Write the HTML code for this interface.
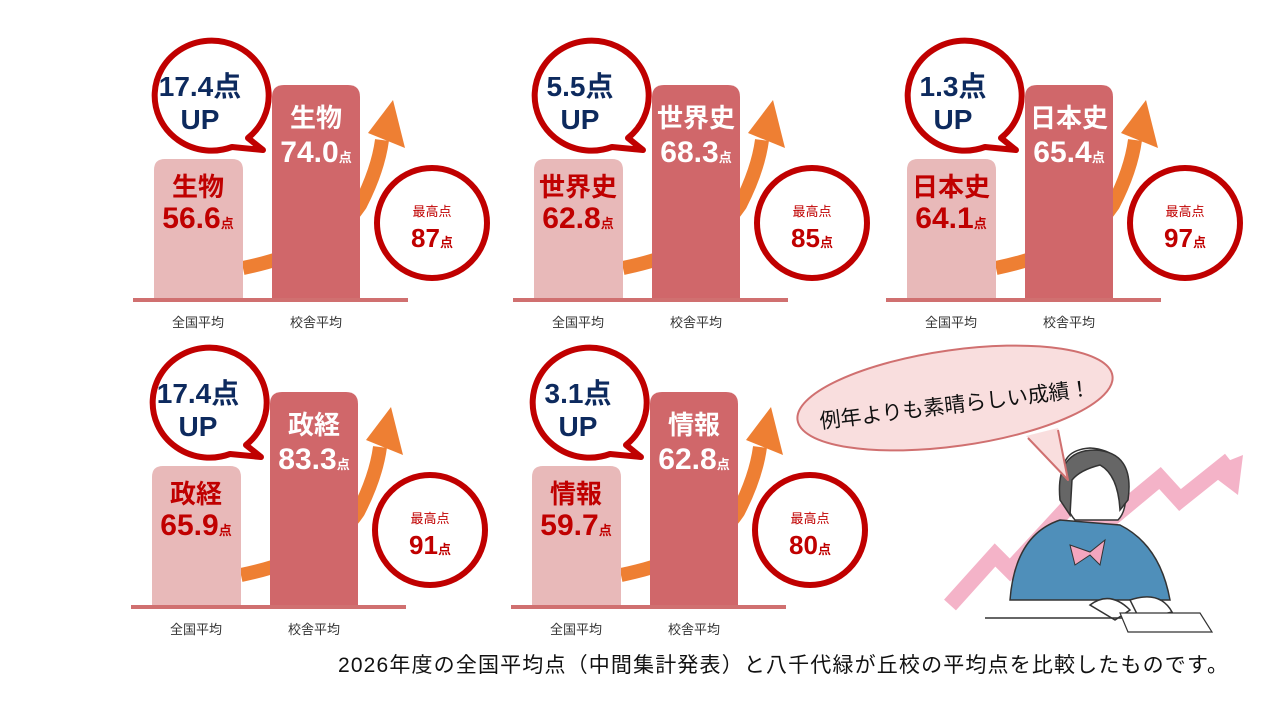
<!DOCTYPE html>
<html><head><meta charset="utf-8"><style>
body{margin:0;background:#fff;width:1280px;height:720px;overflow:hidden}
svg{display:block}
text{font-family:"Liberation Sans","Noto Sans CJK JP",sans-serif}
</style></head><body>
<svg width="1280" height="720" viewBox="0 0 1280 720">
<defs>
<g id="base" font-weight="normal">
  <path d="M243 268 Q330 250 360 205 Q378 170 382 140" fill="none" stroke="#ee7f33" stroke-width="14"/>
  <polygon points="393,100 405,148 368,133" fill="#ee7f33"/>
  <path d="M154 300 V170 Q154 159 165 159 H232 Q243 159 243 170 V300 Z" fill="#e8b9b9"/>
  <path d="M272 300 V97 Q272 85 284 85 H348 Q360 85 360 97 V300 Z" fill="#d0676a"/>
  <rect x="133" y="298" width="275" height="4" fill="#d07070"/>
  <path d="M248 138 A57 55 0 1 0 232 147 L263 150 Z" fill="#fff" stroke="#c00000" stroke-width="6" stroke-linejoin="round"/>
  <circle cx="432" cy="223" r="55" fill="#fff" stroke="#c00000" stroke-width="6"/>
  <text x="198" y="327" font-size="13" text-anchor="middle" fill="#333">全国平均</text>
  <text x="316" y="327" font-size="13" text-anchor="middle" fill="#333">校舎平均</text>
  <text x="432" y="216" font-size="13" text-anchor="middle" fill="#c00000">最高点</text>
</g>
</defs>
<g font-weight="bold">
<g>
<use href="#base"/>
<text x="200" y="96" font-size="28" text-anchor="middle" fill="#0d2a5e">17.4点</text>
<text x="200" y="129" font-size="28" text-anchor="middle" fill="#0d2a5e">UP</text>
<text x="198" y="196" font-size="26" text-anchor="middle" fill="#c00000">生物</text>
<text x="198" y="228" font-size="30" text-anchor="middle" fill="#c00000">56.6<tspan font-size="13">点</tspan></text>
<text x="316" y="127" font-size="26" text-anchor="middle" fill="#fff">生物</text>
<text x="316" y="162" font-size="30" text-anchor="middle" fill="#fff">74.0<tspan font-size="13">点</tspan></text>
<text x="432" y="247" font-size="26" text-anchor="middle" fill="#c00000">87<tspan font-size="13">点</tspan></text>
</g>
<g transform="translate(380,0)">
<use href="#base"/>
<text x="200" y="96" font-size="28" text-anchor="middle" fill="#0d2a5e">5.5点</text>
<text x="200" y="129" font-size="28" text-anchor="middle" fill="#0d2a5e">UP</text>
<text x="198" y="196" font-size="26" text-anchor="middle" fill="#c00000">世界史</text>
<text x="198" y="228" font-size="30" text-anchor="middle" fill="#c00000">62.8<tspan font-size="13">点</tspan></text>
<text x="316" y="127" font-size="26" text-anchor="middle" fill="#fff">世界史</text>
<text x="316" y="162" font-size="30" text-anchor="middle" fill="#fff">68.3<tspan font-size="13">点</tspan></text>
<text x="432" y="247" font-size="26" text-anchor="middle" fill="#c00000">85<tspan font-size="13">点</tspan></text>
</g>
<g transform="translate(753,0)">
<use href="#base"/>
<text x="200" y="96" font-size="28" text-anchor="middle" fill="#0d2a5e">1.3点</text>
<text x="200" y="129" font-size="28" text-anchor="middle" fill="#0d2a5e">UP</text>
<text x="198" y="196" font-size="26" text-anchor="middle" fill="#c00000">日本史</text>
<text x="198" y="228" font-size="30" text-anchor="middle" fill="#c00000">64.1<tspan font-size="13">点</tspan></text>
<text x="316" y="127" font-size="26" text-anchor="middle" fill="#fff">日本史</text>
<text x="316" y="162" font-size="30" text-anchor="middle" fill="#fff">65.4<tspan font-size="13">点</tspan></text>
<text x="432" y="247" font-size="26" text-anchor="middle" fill="#c00000">97<tspan font-size="13">点</tspan></text>
</g>
<g transform="translate(-2,307)">
<use href="#base"/>
<text x="200" y="96" font-size="28" text-anchor="middle" fill="#0d2a5e">17.4点</text>
<text x="200" y="129" font-size="28" text-anchor="middle" fill="#0d2a5e">UP</text>
<text x="198" y="196" font-size="26" text-anchor="middle" fill="#c00000">政経</text>
<text x="198" y="228" font-size="30" text-anchor="middle" fill="#c00000">65.9<tspan font-size="13">点</tspan></text>
<text x="316" y="127" font-size="26" text-anchor="middle" fill="#fff">政経</text>
<text x="316" y="162" font-size="30" text-anchor="middle" fill="#fff">83.3<tspan font-size="13">点</tspan></text>
<text x="432" y="247" font-size="26" text-anchor="middle" fill="#c00000">91<tspan font-size="13">点</tspan></text>
</g>
<g transform="translate(378,307)">
<use href="#base"/>
<text x="200" y="96" font-size="28" text-anchor="middle" fill="#0d2a5e">3.1点</text>
<text x="200" y="129" font-size="28" text-anchor="middle" fill="#0d2a5e">UP</text>
<text x="198" y="196" font-size="26" text-anchor="middle" fill="#c00000">情報</text>
<text x="198" y="228" font-size="30" text-anchor="middle" fill="#c00000">59.7<tspan font-size="13">点</tspan></text>
<text x="316" y="127" font-size="26" text-anchor="middle" fill="#fff">情報</text>
<text x="316" y="162" font-size="30" text-anchor="middle" fill="#fff">62.8<tspan font-size="13">点</tspan></text>
<text x="432" y="247" font-size="26" text-anchor="middle" fill="#c00000">80<tspan font-size="13">点</tspan></text>
</g>
</g>
<!-- pink zigzag arrow -->
<polyline points="950,605 995,555 1010,570 1070,505 1100,528 1160,478 1180,500 1230,460" fill="none" stroke="#f4b3c8" stroke-width="16" stroke-linejoin="miter"/>
<polygon points="1243,455 1238,495 1205,470" fill="#f4b3c8"/>
<!-- girl -->
<path d="M1010 600 Q1015 535 1060 520 L1120 525 Q1160 545 1170 600 Z" fill="#4f8fba" stroke="#333" stroke-width="1.5"/>
<path d="M1063 478 Q1060 450 1090 448 Q1125 450 1125 485 Q1128 510 1118 520 L1075 520 Q1062 505 1063 478 Z" fill="#fff" stroke="#333" stroke-width="1.5"/>
<path d="M1060 500 Q1055 450 1095 450 Q1135 452 1128 500 L1120 510 Q1118 475 1100 465 Q1080 470 1072 480 L1070 515 Z" fill="#666" stroke="#333" stroke-width="1.5"/>
<path d="M1070 545 L1090 552 L1105 540 L1100 565 L1090 555 L1075 565 Z" fill="#f4a6bf" stroke="#333" stroke-width="1"/>
<path d="M1090 605 Q1110 590 1130 610 L1115 620 Z" fill="#fff" stroke="#333" stroke-width="1.5"/>
<path d="M1130 600 Q1160 590 1172 612 L1140 620 Z" fill="#fff" stroke="#333" stroke-width="1.5"/>
<line x1="985" y1="618" x2="1200" y2="618" stroke="#333" stroke-width="1.5"/>
<polygon points="1120,613 1200,613 1212,632 1128,632" fill="#fff" stroke="#333" stroke-width="1.2"/>
<!-- speech bubble -->
<ellipse cx="955" cy="398" rx="159" ry="48" fill="#f9dede" stroke="#d07070" stroke-width="2" transform="rotate(-8 955 398)"/>
<polygon points="1026,436 1068,480 1058,428" fill="#f9dede"/>
<polyline points="1028,438 1068,480 1058,430" fill="none" stroke="#d07070" stroke-width="2" stroke-linejoin="round"/>
<text x="955" y="412" font-size="21" text-anchor="middle" fill="#111" transform="rotate(-7 955 405)">例年よりも素晴らしい成績！</text>
<text x="338" y="672" font-size="21" fill="#111" textLength="890" lengthAdjust="spacing">2026年度の全国平均点（中間集計発表）と八千代緑が丘校の平均点を比較したものです。</text>
</svg>
</body></html>
